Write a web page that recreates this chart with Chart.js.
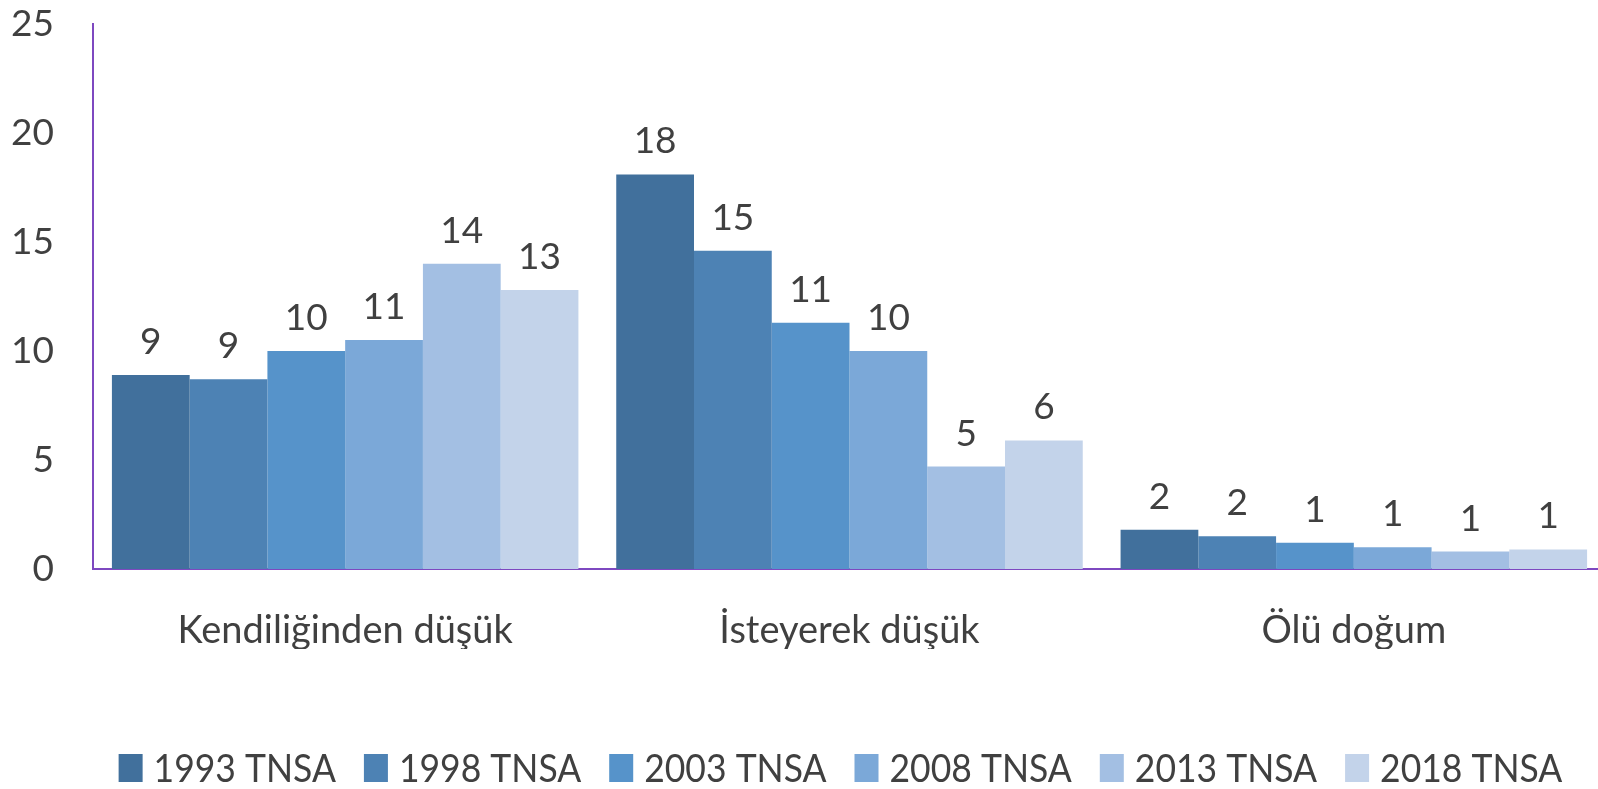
<!DOCTYPE html>
<html>
<head>
<meta charset="utf-8">
<script src="https://cdn.jsdelivr.net/npm/chart.js@4.4.1/dist/chart.umd.min.js"></script>
<style>
html,body{margin:0;padding:0;background:#ffffff;overflow:hidden;}
#wrap{position:relative;width:1610px;height:789px;overflow:hidden;}
canvas{display:block;}
</style>
</head>
<body>
<div id="wrap"><canvas id="c" width="1610" height="789"></canvas></div>
<script>
// ---- data ----
const categories = ['Kendiliğinden düşük', 'İsteyerek düşük', 'Ölü doğum'];
const seriesNames = ['1993 TNSA', '1998 TNSA', '2003 TNSA', '2008 TNSA', '2013 TNSA', '2018 TNSA'];
const v1993 = [8.9, 18.1, 1.8];
const v1998 = [8.7, 14.6, 1.5];
const v2003 = [10.0, 11.3, 1.2];
const v2008 = [10.5, 10.0, 1.0];
const v2013 = [14.0, 4.7, 0.8];
const v2018 = [12.8, 5.9, 0.9];
const l1993 = [9, 18, 2];
const l1998 = [9, 15, 2];
const l2003 = [10, 11, 1];
const l2008 = [11, 10, 1];
const l2013 = [14, 5, 1];
const l2018 = [13, 6, 1];
const yTicks = [0, 5, 10, 15, 20, 25];

// ---- style ----
const colors = ['#41709C', '#4D82B4', '#5693CA', '#7BA8D8', '#A3BFE3', '#C3D3EA'];
const textColor = '#404040';
const axisColor = '#7E48C0';
const FONT = 'Lato, "Open Sans", sans-serif';

const seriesValues = [v1993, v1998, v2003, v2008, v2013, v2018];
const seriesLabels = [l1993, l1998, l2003, l2008, l2013, l2018];

const datasets = seriesNames.map((name, i) => ({
  label: name,
  data: seriesValues[i],
  valueLabels: seriesLabels[i],
  backgroundColor: colors[i],
  borderWidth: 0,
  categoryPercentage: 0.925,
  barPercentage: 1.0
}));

const valueLabelPlugin = {
  id: 'valueLabels',
  afterDatasetsDraw(chart) {
    const ctx = chart.ctx;
    ctx.save();
    ctx.font = '37px ' + FONT;
    ctx.fillStyle = textColor;
    ctx.textAlign = 'center';
    ctx.textBaseline = 'alphabetic';
    chart.data.datasets.forEach((ds, i) => {
      const meta = chart.getDatasetMeta(i);
      meta.data.forEach((bar, j) => {
        ctx.fillText(String(ds.valueLabels[j]), bar.x, bar.y - 21);
      });
    });
    ctx.restore();
  }
};

const customLegend = {
  id: 'customLegend',
  afterDraw(chart) {
    const ctx = chart.ctx;
    ctx.save();
    ctx.font = '39px ' + FONT;
    const sx = 0.91;
    const boxW = 24, boxH = 28, gap = 11, itemGap = 28;
    const items = chart.data.datasets.map(ds => ({text: ds.label, color: ds.backgroundColor, w: ctx.measureText(ds.label).width * sx}));
    let total = 0;
    items.forEach((it, i) => { total += boxW + gap + it.w + (i < items.length - 1 ? itemGap : 0); });
    let x = 840.5 - total / 2;
    const boxTop = 754, baseY = 782;
    ctx.textBaseline = 'alphabetic';
    ctx.textAlign = 'left';
    items.forEach(it => {
      ctx.fillStyle = it.color;
      ctx.fillRect(x, boxTop, boxW, boxH);
      ctx.fillStyle = textColor;
      ctx.save();
      ctx.translate(x + boxW + gap, baseY);
      ctx.scale(sx, 1);
      ctx.fillText(it.text, 0, 0);
      ctx.restore();
      x += boxW + gap + it.w + itemGap;
    });
    ctx.restore();
  }
};

new Chart(document.getElementById('c'), {
  type: 'bar',
  data: { labels: categories, datasets },
  options: {
    responsive: false,
    animation: false,
    devicePixelRatio: 1,
    layout: { padding: { left: 0, top: 24, right: 4, bottom: 140 } },
    plugins: { legend: { display: false }, tooltip: { enabled: false } },
    scales: {
      x: {
        grid: { display: false, drawTicks: false },
        border: { display: true, color: axisColor, width: 2 },
        ticks: { color: textColor, font: { family: FONT, size: 38 }, padding: 39, maxRotation: 0 },
        afterFit(scale) { scale.height = 80; }
      },
      y: {
        min: 0, max: 25,
        afterBuildTicks(scale) { scale.ticks = yTicks.map(v => ({ value: v })); },
        grid: { display: false, drawTicks: false },
        border: { display: true, color: axisColor, width: 2 },
        ticks: { color: textColor, font: { family: FONT, size: 37 }, padding: 39 },
        afterFit(scale) { scale.width = 93; scale.paddingTop = 0; scale.paddingBottom = 0; }
      }
    }
  },
  plugins: [valueLabelPlugin, customLegend]
});
</script>
</body>
</html>
